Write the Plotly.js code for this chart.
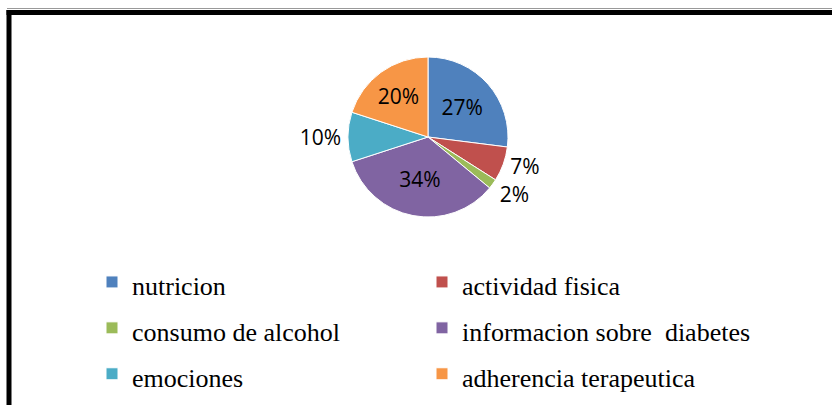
<!DOCTYPE html>
<html>
<head>
<meta charset="utf-8">
<script src="https://cdn.plot.ly/plotly-3.0.1.min.js"></script>
<style>
  html, body { margin: 0; padding: 0; background: #fff; }
  #chart { width: 832px; height: 405px; }
  /* the reference has no leader lines on the outside labels */
  #chart path.textline { stroke-opacity: 0 !important; stroke-width: 0 !important; }
</style>
</head>
<body>
<div id="chart"></div>
<script>
// categories and shares (percent)
const categories = ['nutricion', 'actividad fisica', 'consumo de alcohol',
    'informacion sobre\u00a0\u00a0diabetes', 'emociones', 'adherencia terapeutica'];
const shares = [27, 7, 2, 34, 10, 20];
const sliceColors = ['#4F81BD', '#C0504D', '#9BBB59', '#8064A2', '#4BACC6', '#F79646'];
const labelSpots = ['inside', 'outside', 'outside', 'inside', 'outside', 'inside'];

const W = 832, H = 405;
// pixel -> paper helpers
const px = x => x / W;
const py = y => 1 - y / H;

// legend text is drawn smaller than legend font so rows get more room
const legendNames = categories.map(c => '<span style="font-size:26px">' + c + '</span>');

const trace = {
    type: 'pie',
    labels: legendNames,
    values: shares,
    sort: false,
    direction: 'clockwise',
    rotation: 0,
    texttemplate: '%{value}%',
    textposition: labelSpots,
    insidetextorientation: 'horizontal',
    textfont: { family: 'Open Sans', size: 21, color: '#000' },
    outsidetextfont: { family: 'Open Sans', size: 21, color: '#000' },
    insidetextfont: { family: 'Open Sans', size: 21, color: '#000' },
    marker: { colors: sliceColors, line: { color: '#fff', width: 1 } },
    hoverinfo: 'none',
    domain: { x: [px(348), px(508)], y: [py(217), py(57)] }
};

const layout = {
    width: W,
    height: H,
    margin: { l: 0, r: 0, t: 0, b: 0, autoexpand: false },
    paper_bgcolor: '#fff',
    showlegend: true,
    legend: {
        orientation: 'h',
        x: px(92),
        xanchor: 'left',
        y: py(254),
        yanchor: 'top',
        entrywidth: 285,
        entrywidthmode: 'pixels',
        font: { family: 'Liberation Serif', size: 33, color: '#000' },
        traceorder: 'normal'
    },
    shapes: [
        // thin grey line above the frame
        { type: 'line', xref: 'paper', yref: 'paper', x0: px(7), x1: 1.01, y0: py(8.5), y1: py(8.5),
          line: { color: '#999', width: 1 } },
        // thick black frame (top and left edges visible)
        { type: 'line', xref: 'paper', yref: 'paper', x0: px(6.5), x1: 1.01, y0: py(12.5), y1: py(12.5),
          line: { color: '#000', width: 5 } },
        { type: 'line', xref: 'paper', yref: 'paper', x0: px(9), x1: px(9), y0: py(10), y1: -0.02,
          line: { color: '#000', width: 5 } }
    ]
};

Plotly.newPlot('chart', [trace], layout, { displayModeBar: false, staticPlot: true });
</script>
</body>
</html>
